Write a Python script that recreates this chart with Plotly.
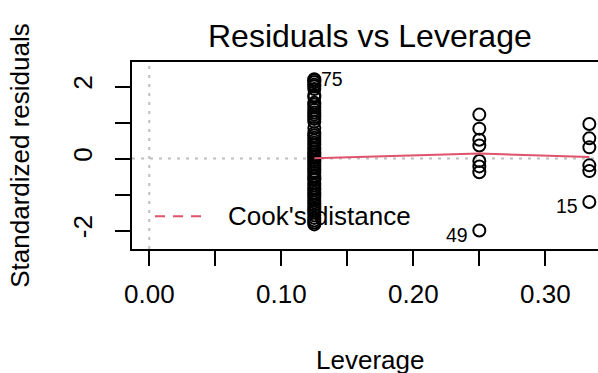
import plotly.graph_objects as go

# Standardized residuals grouped by leverage value
lev_a = 0.125
resid_a = [2.20, 2.17, 2.12, 2.05, 2.00, 1.93, 1.75, 1.70, 1.55, 1.50, 1.42,
           1.35, 1.28, 1.22, 1.15, 1.10, 1.02, 0.85, 0.70, 0.64, 0.58, 0.50,
           0.44, 0.38, 0.30, 0.25, 0.18, 0.12, 0.06, 0.02, -0.04, -0.10,
           -0.15, -0.22, -0.28, -0.35, -0.40, -0.48, -0.55, -0.60, -0.68,
           -0.75, -0.82, -0.88, -0.95, -1.02, -1.08, -1.15, -1.22, -1.30,
           -1.38, -1.44, -1.50, -1.58, -1.65, -1.72, -1.78, -1.83]
lev_b = 0.25
resid_b = [1.22, 0.83, 0.52, 0.36, -0.07, -0.22, -0.38, -2.00]
lev_c = 1 / 3
resid_c = [0.96, 0.56, 0.31, -0.19, -0.35, -1.21]

# Smoothed trend through the three leverage groups
smooth_x = [0.125, 0.25, 1 / 3]
smooth_y = [0.01, 0.14, 0.04]

# Labelled observations: (id, leverage, residual, side)
labelled = [("75", 0.125, 2.20, "right"),
            ("49", 0.25, -2.00, "left"),
            ("15", 1 / 3, -1.21, "left")]

x_ticks = [0.00, 0.05, 0.10, 0.15, 0.20, 0.25, 0.30]
x_ticktext = ["0.00", "", "0.10", "", "0.20", "", "0.30"]
y_ticks = [-2, -1, 0, 1, 2]
y_ticktext = ["-2", "", "0", "", "2"]

FONT = "Liberation Sans, Arial, Helvetica, sans-serif"
RED = "#DF536B"

lev_all = [lev_a] * len(resid_a) + [lev_b] * len(resid_b) + [lev_c] * len(resid_c)
resid_all = resid_a + resid_b + resid_c

fig = go.Figure()
fig.add_trace(go.Scatter(
    x=lev_all, y=resid_all, mode="markers",
    marker=dict(symbol="circle-open", size=12, color="black",
                line=dict(width=2, color="black")),
    showlegend=False, hoverinfo="skip"))
fig.add_trace(go.Scatter(
    x=smooth_x, y=smooth_y, mode="lines",
    line=dict(color=RED, width=2), showlegend=False, hoverinfo="skip"))

shapes = [
    # reference lines at zero
    dict(type="line", xref="x", yref="paper", x0=0, x1=0, y0=0, y1=1,
         line=dict(color="#bebebe", width=2, dash="3px,6px"), layer="below"),
    dict(type="line", xref="paper", yref="y", x0=0, x1=1, y0=0, y1=0,
         line=dict(color="#bebebe", width=2, dash="3px,6px"), layer="below"),
    # legend key for Cook's distance
    dict(type="line", xref="paper", yref="paper", x0=0.0494, x1=0.1524,
         y0=0.1749, y1=0.1749, line=dict(color=RED, width=2, dash="10px,8px")),
]

annotations = [
    dict(text="Cook's distance", xref="paper", yref="paper", x=0.2017, y=0.1749,
         xanchor="left", yanchor="middle", showarrow=False,
         font=dict(size=26, color="black", family=FONT)),
    dict(text="Residuals vs Leverage", xref="paper", yref="paper",
         x=0.5097, y=1.14, xanchor="center", yanchor="middle", showarrow=False,
         font=dict(size=32, color="black", family=FONT)),
    dict(text="Leverage", xref="paper", yref="paper", x=0.5097, y=-0.595,
         xanchor="center", yanchor="middle", showarrow=False,
         font=dict(size=26, color="black", family=FONT)),
    dict(text="Standardized residuals", xref="paper", yref="paper",
         x=-0.242, y=0.5, xanchor="center", yanchor="middle", textangle=-90,
         showarrow=False, font=dict(size=26, color="black", family=FONT)),
]
for lab, lx, ly, side in labelled:
    annotations.append(dict(
        text=lab, x=lx, y=ly, xref="x", yref="y", showarrow=False,
        xanchor="left" if side == "right" else "right", yanchor="middle",
        xshift=5 if side == "right" else -9, yshift=0 if side == "right" else -4,
        font=dict(size=19.5, color="black", family=FONT)))

fig.update_layout(
    width=598, height=373,
    margin=dict(l=132, r=0, t=62, b=124),
    paper_bgcolor="white", plot_bgcolor="white",
    font=dict(family=FONT, color="black"),
    shapes=shapes, annotations=annotations,
    xaxis=dict(range=[-0.0131, 0.3399], tickvals=x_ticks, ticktext=x_ticktext,
               ticks="outside", ticklen=15, tickwidth=2, tickcolor="black",
               ticklabelstandoff=6,
               showline=True, linecolor="black", linewidth=2, mirror=True,
               showgrid=False, zeroline=False, tickfont=dict(size=26)),
    yaxis=dict(range=[-2.514, 2.681], tickvals=y_ticks, ticktext=y_ticktext,
               ticks="outside", ticklen=15, tickwidth=2, tickcolor="black",
               ticklabelstandoff=13,
               tickangle=-90, showline=True, linecolor="black", linewidth=2,
               showgrid=False, zeroline=False, tickfont=dict(size=26)),
)

fig.write_html("out.html")
